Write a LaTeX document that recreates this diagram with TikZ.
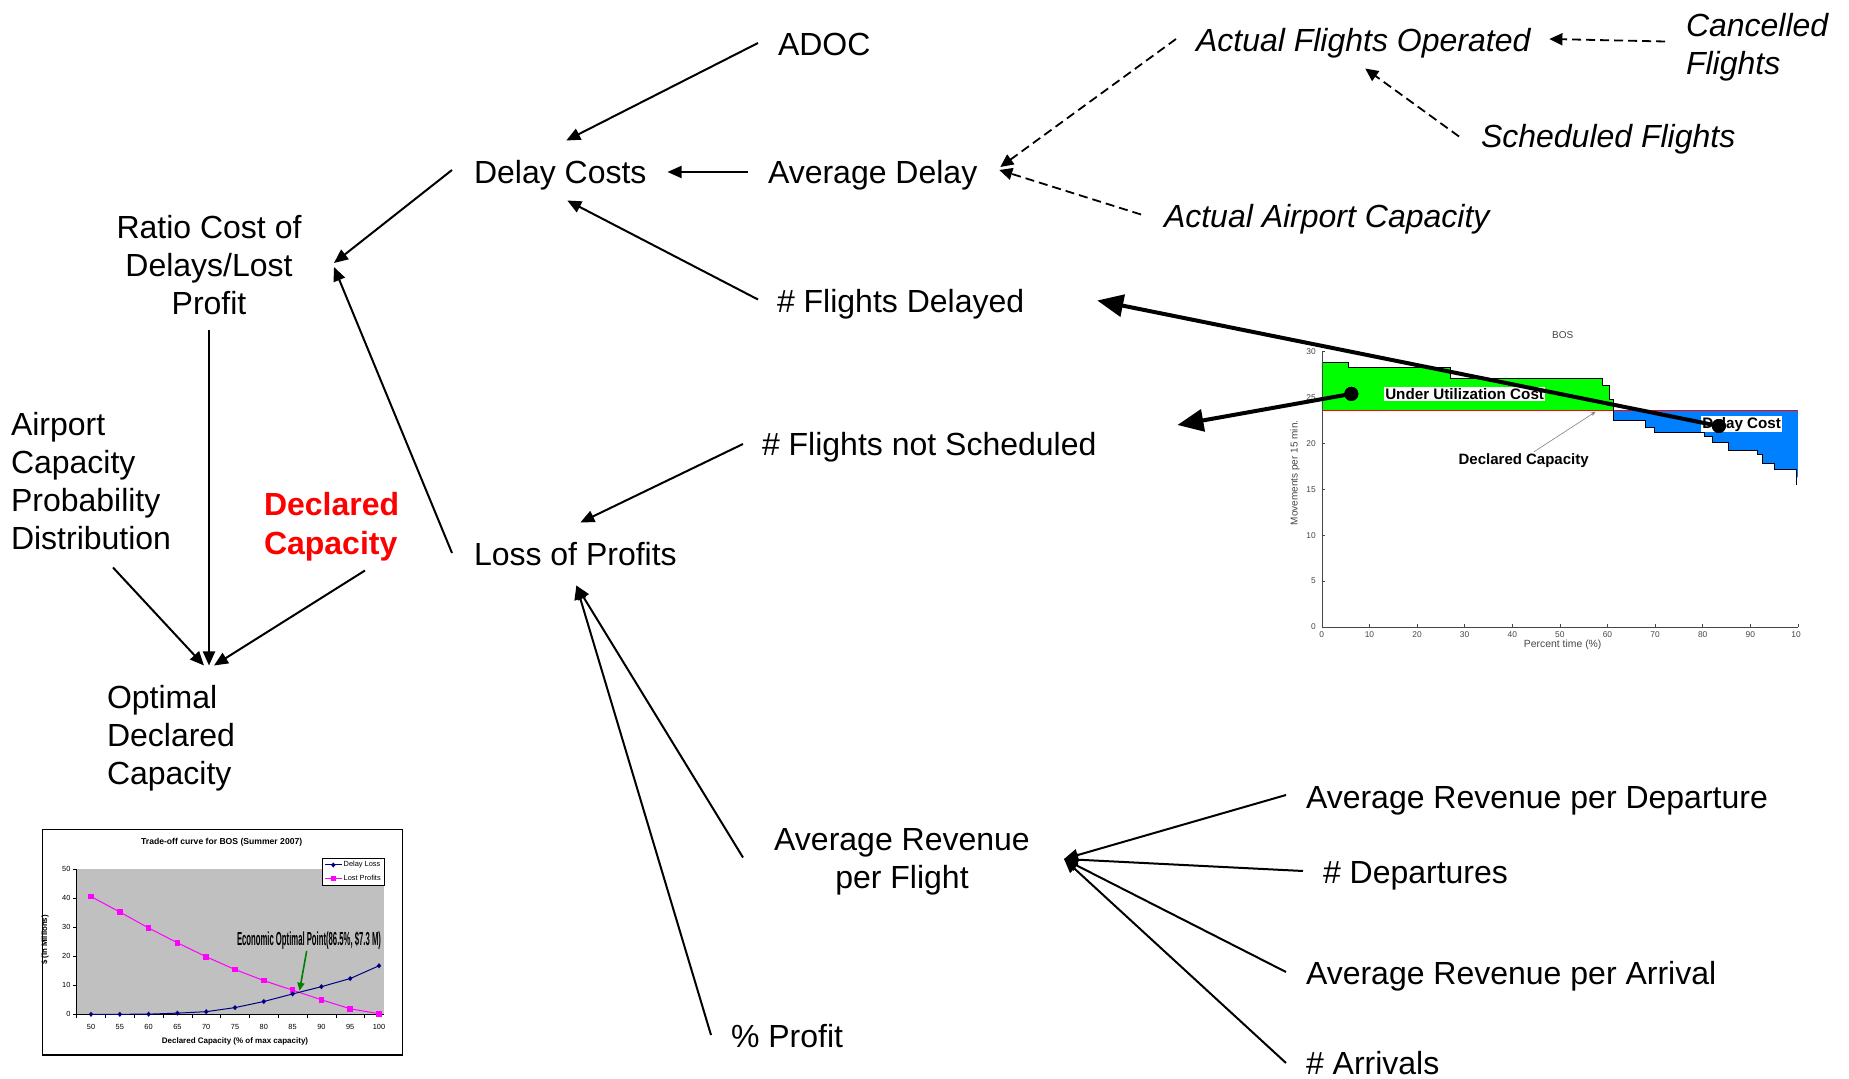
\documentclass[tikz,border=0pt]{standalone}
\usepackage{fontspec}
\setmainfont{Liberation Sans}
\usepackage{graphicx}
\usetikzlibrary{arrows.meta}
\definecolor{declred}{RGB}{255,0,0}
\definecolor{bosgreen}{RGB}{0,255,0}
\definecolor{bosblue}{RGB}{0,128,255}
\definecolor{lpmag}{RGB}{255,0,255}
\definecolor{dlnavy}{RGB}{0,0,128}
\definecolor{plotgray}{RGB}{192,192,192}
\definecolor{annogreen}{RGB}{0,128,0}
\definecolor{axgray}{RGB}{70,70,70}
\newcommand{\myfs}[1]{\fontsize{#1}{#1}\selectfont}
\begin{document}
\begin{tikzpicture}[x=0.5pt,y=-0.5pt,
  base/.style={inner sep=0pt, outer sep=0pt, font=\fontsize{16}{19}\selectfont},
  lbl/.style={base, anchor=west, text height=11.5pt, text depth=0pt},
  ilbl/.style={lbl, font=\fontsize{16}{19}\selectfont\itshape},
  mlbl/.style={base, anchor=north west, align=left},
  conn/.style={line width=1pt, -{Triangle[length=7pt,width=6pt]}},
  dconn/.style={line width=0.9pt, dash pattern=on 4.5pt off 2.5pt, -{Triangle[length=6.5pt,width=6pt]}},
  tconn/.style={line width=2pt, -{Triangle[length=13pt,width=11pt]}},
  dotst/.style={circle, fill=black, inner sep=0pt, minimum size=7pt},
  tick/.style={axgray, line width=0.3pt},
  ticklbl/.style={text=axgray, inner sep=0pt, font=\myfs{4.2}},
  smlbl/.style={inner sep=0pt, font=\myfs{3.7}},
]
\path[use as bounding box] (0,0) rectangle (1849,1079);

% ---------------- BOS chart (right) ----------------
\begin{scope}[shift={(1321.8,627)}, x=2.3805pt, y=4.589pt]
  \fill[bosgreen] (0,23.6) -- (0,28.8) -- (5.6,28.8) -- (5.6,28.3) -- (27,28.3) -- (27,27.1)
     -- (59,27.1) -- (59,26.3) -- (60.4,26.3) -- (60.4,24.8) -- (61.2,24.8) -- (61.2,23.6) -- cycle;
  \fill[bosblue] (61.2,23.6) -- (61.2,22.48) -- (67.9,22.48) -- (67.9,21.76) -- (69.8,21.76)
     -- (69.8,21.18) -- (80.3,21.18) -- (80.3,20.74) -- (82,20.74) -- (82,20.09) -- (85.5,20.09)
     -- (85.5,19.22) -- (91.5,19.22) -- (91.5,18.74) -- (92.6,18.74) -- (92.6,17.76) -- (95,17.76)
     -- (95,17.18) -- (99.8,17.18) -- (99.8,16.3) -- (100,16.3) -- (100,23.6) -- cycle;
  \draw[red, line width=0.6pt] (0,23.6) -- (100,23.6);
  \draw[black, line width=0.5pt] (0,28.8) -- (5.6,28.8) -- (5.6,28.3) -- (27,28.3) -- (27,27.1)
     -- (59,27.1) -- (59,26.3) -- (60.4,26.3) -- (60.4,24.8) -- (61.2,24.8) -- (61.2,22.48)
     -- (67.9,22.48) -- (67.9,21.76) -- (69.8,21.76) -- (69.8,21.18) -- (80.3,21.18) -- (80.3,20.74)
     -- (82,20.74) -- (82,20.09) -- (85.5,20.09) -- (85.5,19.22) -- (91.5,19.22) -- (91.5,18.74)
     -- (92.6,18.74) -- (92.6,17.76) -- (95,17.76) -- (95,17.18) -- (99.8,17.18) -- (99.8,15.5);
  \draw[tick] (0,30) -- (0,0) -- (100,0);
  \foreach \v in {0,5,...,30} {
    \draw[tick] (0,\v) -- (0.7,\v);
    \node[ticklbl, anchor=east] at (-1.2,\v) {\v};
  }
  \foreach \v in {0,10,...,90} {
    \draw[tick] (\v,0) -- (\v,0.35);
    \node[ticklbl] at (\v,-0.79) {\v};
  }
  \draw[tick] (100,0) -- (100,0.35);
  \node[ticklbl] at (99.6,-0.79) {10};
  \node[ticklbl, font=\myfs{5}] (bostitle) at (50.6,31.8) {BOS};
  \node[ticklbl, font=\myfs{5}, rotate=90] (bosylab) at (-5.6,16.8) {Movements per 15 min.};
  \node[ticklbl, font=\myfs{5.2}] (bosxlab) at (50.6,-1.93) {Percent time (\%)};
  \node[fill=white, inner sep=0.6pt, font=\bfseries\myfs{7.6}] (uuc) at (30,25.4) {Under Utilization Cost};
  \node[fill=white, inner sep=0.6pt, font=\bfseries\myfs{7.6}] (dcost) at (88.2,22.1) {Delay Cost};
  \node[inner sep=0pt, font=\bfseries\myfs{7.5}] (dcap) at (42.4,18.1) {Declared Capacity};
  \coordinate (dcapline) at (57.5,23.45);
  \draw[gray, line width=0.3pt, -{Stealth[length=2.5pt,width=2pt]}] ([shift={(2.2,0.2)}]dcap.north) -- (dcapline);
  \coordinate (dotUpos) at (6.2,25.4);
  \coordinate (dotDpos) at (83.4,21.9);
\end{scope}

% ---------------- Trade-off chart (left) ----------------
\draw[line width=0.6pt] (42.7,829.3) rectangle (402.5,1055);
\node[inner sep=0pt, font=\bfseries\myfs{4.3}] (tradetitle) at (221.7,842.7) {Trade-off curve for BOS (Summer 2007)};
\begin{scope}[shift={(91,1014.3)}, x=2.88pt, y=1.4535pt]
  \fill[plotgray] (-2.48,0) rectangle (50.92,50);
  \draw[line width=0.4pt] (-2.48,50) -- (-2.48,0) -- (50.92,0);
  \foreach \v in {0,10,...,50} {
    \draw[line width=0.3pt] (-2.48,\v) -- (-3.1,\v);
    \node[smlbl, anchor=east] at (-3.5,\v) {\v};
  }
  \foreach \k in {0,...,10} \draw[line width=0.3pt] (-2.48+5*\k,0) -- (-2.48+5*\k,-1.3);
  \foreach \v in {50,55,...,100} \node[smlbl] at (\v-50,-4.3) {\v};
  \draw[lpmag, line width=0.5pt] (0,40.5) -- (5,35.2) -- (10,29.7) -- (15,24.6) -- (20,19.8)
     -- (25,15.4) -- (30,11.6) -- (35,8.3) -- (40,5.0) -- (45,1.9) -- (50,0.2);
  \draw[dlnavy, line width=0.5pt] (0,0) -- (5,0) -- (10,0.05) -- (15,0.4) -- (20,0.9)
     -- (25,2.3) -- (30,4.4) -- (35,7.0) -- (40,9.5) -- (45,12.3) -- (50,16.7);
  \foreach \a/\b in {0/40.5,5/35.2,10/29.7,15/24.6,20/19.8,25/15.4,30/11.6,35/8.3,40/5.0,45/1.9,50/0.2}
    \fill[lpmag] (\a,\b) ++(-1.4pt,-1.4pt) rectangle ++(2.8pt,2.8pt);
  \foreach \a/\b in {0/0,5/0,10/0.05,15/0.4,20/0.9,25/2.3,30/4.4,35/7.0,40/9.5,45/12.3,50/16.7}
    \fill[dlnavy] (\a,\b) +(0,1.3pt) -- +(1.1pt,0) -- +(0,-1.3pt) -- +(-1.1pt,0) -- cycle;
  \coordinate (optpt) at (36.2,8.1);
\end{scope}
\node[inner sep=0pt, font=\bfseries\myfs{3.9}, rotate=90] (tradeylab) at (45,940) {\$ (in Millions)};
\node[inner sep=0pt, font=\bfseries\myfs{4}] (tradexlab) at (235,1041.5) {Declared Capacity (\% of max capacity)};
\draw[fill=white, line width=0.4pt] (322.7,858.3) rectangle (384.3,885);
\draw[dlnavy, line width=0.5pt] (325,865) -- (341.7,865);
\fill[dlnavy] (333.3,865) +(0,1.3pt) -- +(1.1pt,0) -- +(0,-1.3pt) -- +(-1.1pt,0) -- cycle;
\node[smlbl, anchor=west] (legdl) at (343.3,865) {Delay Loss};
\draw[lpmag, line width=0.5pt] (325,878.3) -- (341.7,878.3);
\fill[lpmag] (333.3,878.3) ++(-1.3pt,-1.3pt) rectangle ++(2.6pt,2.6pt);
\node[smlbl, anchor=west] (leglp) at (343.3,878.3) {Lost Profits};
\node[inner sep=0pt] (econ) at (309,940.5) {\resizebox{72pt}{7pt}{\bfseries Economic Optimal Point(86.5\%, \$7.3 M)}};
\draw[annogreen, line width=0.8pt, -{Triangle[length=4pt,width=3.5pt]}] ([shift={(-2.3,1)}]econ.south) -- (optpt);

% ---------------- Text nodes ----------------
\node[lbl] (adoc) at (778,44) {ADOC};
\node[lbl] (dc) at (474,172) {Delay Costs};
\node[lbl] (avd) at (768,172) {Average Delay};
\node[ilbl] (afo) at (1196,40) {Actual Flights Operated};
\node[mlbl, font=\fontsize{16}{19}\selectfont\itshape] (canc) at (1686,13.5) {Cancelled\\Flights};
\node[ilbl] (sched) at (1481,136.5) {Scheduled Flights};
\node[ilbl] (aac) at (1164,216.5) {Actual Airport Capacity};
\node[base, anchor=north, align=center] (ratio) at (209,215) {Ratio Cost of\\Delays/Lost\\Profit};
\node[lbl] (fd) at (777,301.5) {\# Flights Delayed};
\node[lbl] (fns) at (762,444) {\# Flights not Scheduled};
\node[mlbl] (apcd) at (11,412.5) {Airport\\Capacity\\Probability\\Distribution};
\node[mlbl, text=declred, font=\fontsize{16}{19.5}\selectfont\bfseries] (decl) at (264,492.5) {Declared\\Capacity};
\node[lbl] (lop) at (474,554) {Loss of Profits};
\node[mlbl] (odc) at (107,685.5) {Optimal\\Declared\\Capacity};
\node[base, anchor=north, align=center] (arpf) at (902,828.5) {Average Revenue\\per Flight};
\node[lbl] (pp) at (731,1036) {\% Profit};
\node[lbl] (arpd) at (1306,797) {Average Revenue per Departure};
\node[lbl] (dep) at (1323,872) {\# Departures};
\node[lbl] (arpa) at (1306,973) {Average Revenue per Arrival};
\node[lbl] (narr) at (1306,1063) {\# Arrivals};

% ---------------- Connectors ----------------
\draw[conn] ([shift={(-20,-1)}]adoc.west) -- ([shift={(6,-20)}]dc.north);
\draw[conn] ([shift={(-20,0)}]avd.west) -- ([shift={(21,0)}]dc.east);
\draw[conn] ([shift={(-19,-2)}]fd.west) -- ([shift={(7,17)}]dc.south);
\draw[conn] ([shift={(-22,-2)}]dc.west) -- ([shift={(125,48)}]ratio.north);
\draw[conn] ([shift={(-22,-1)}]lop.west) -- ([shift={(125,52)}]ratio.north);
\draw[conn] ([shift={(0,115)}]ratio.north) -- ([shift={(102,-20)}]odc.north west);
\draw[conn] ([shift={(102,155)}]apcd.north west) -- ([shift={(97,-20)}]odc.north west);
\draw[conn] ([shift={(101,78)}]decl.north west) -- ([shift={(107,-20)}]odc.north west);
\draw[conn] ([shift={(-19,0)}]fns.west) -- ([shift={(5,-20)}]lop.north);
\draw[conn] ([shift={(-159,29)}]arpf.north) -- ([shift={(1,20)}]lop.south);
\draw[conn] ([shift={(-20,-1)}]pp.west) -- ([shift={(1,20)}]lop.south);
\foreach \n/\dy in {arpd/-2, dep/-1, arpa/-1, narr/0}
  \draw[conn] ([shift={(-20,\dy)}]\n.west) -- ([shift={(162,30.5)}]arpf.north);

\draw[dconn] ([shift={(-20,-1)}]afo.west) -- ([shift={(23,-5)}]avd.east);
\draw[dconn] ([shift={(-23,-2)}]aac.west) -- ([shift={(22,-2)}]avd.east);
\draw[dconn] ([shift={(-21,28)}]canc.north west) -- ([shift={(19,-1)}]afo.east);
\draw[dconn] ([shift={(-22,0)}]sched.west) -- ([shift={(2,17)}]afo.south);

\coordinate (fnsin) at ([shift={(81,-19)}]fns.east);
\node[dotst] (dotU) at (dotUpos) {};
\node[dotst] (dotD) at (dotDpos) {};
\draw[tconn] (dotD.center) -- ([shift={(73,-1)}]fd.east);
\draw[tconn] (dotU.center) -- (fnsin);
\node[dotst] at (dotU) {};
\node[dotst] at (dotD) {};
\end{tikzpicture}
\end{document}
